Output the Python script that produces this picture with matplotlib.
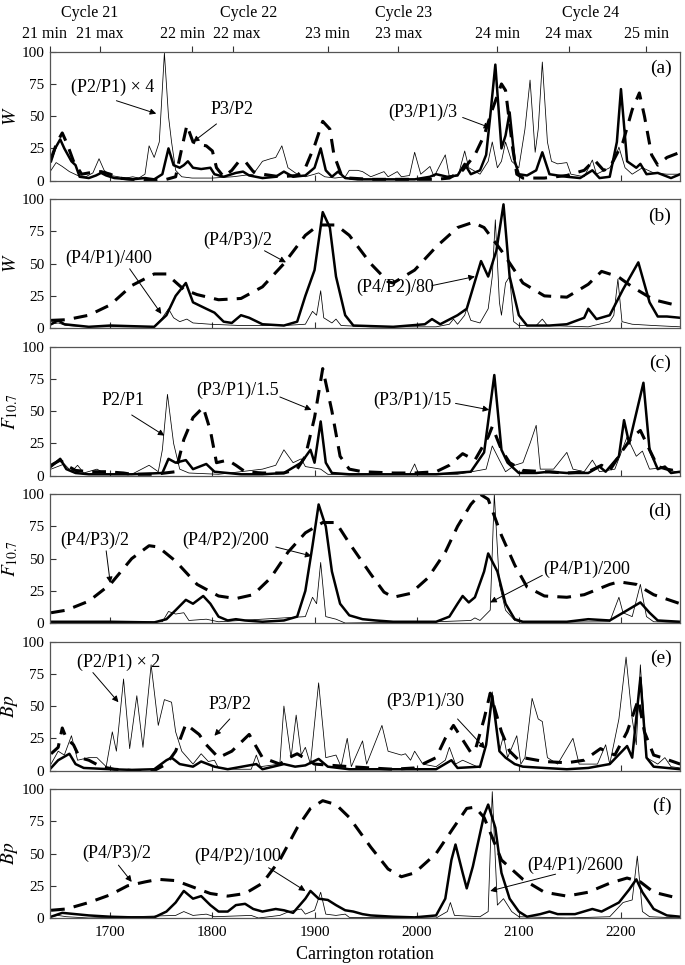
import matplotlib
matplotlib.use("Agg")
import matplotlib.pyplot as plt
import matplotlib.transforms as mtransforms

plt.rcParams['font.family'] = ['Liberation Serif', 'DejaVu Serif']
plt.rcParams['mathtext.fontset'] = 'stix'

# solar cycle markers on the top axis
cycle_ticks = [1641, 1690, 1780, 1820, 1913, 1982, 2079, 2149, 2225]
cycle_tick_labels = ['21 min', '21 max', '22 min', '22 max', '23 min',
                     '23 max', '24 min', '24 max', '25 min']
cycle_names = ['Cycle 21', 'Cycle 22', 'Cycle 23', 'Cycle 24']
cycle_name_pos = [1680, 1835, 1987, 2170]

# ---- panel (a): W, short periods
a_thin_x = [1642, 1647, 1653, 1660, 1668, 1676, 1683, 1689, 1694, 1700, 1708, 1715, 1722, 1728, 1734, 1738, 1743, 1748,
            1753, 1757, 1760, 1764, 1770, 1780, 1800, 1820, 1840, 1849, 1853, 1857, 1862, 1868, 1874, 1883, 1891, 1900,
            1904, 1910, 1920, 1930, 1934, 1942, 1947, 1955, 1968, 1972, 1981, 1985, 1993, 1998, 2004, 2013, 2017, 2028,
            2032, 2041, 2047, 2051, 2062, 2070, 2074, 2079, 2083, 2087, 2093, 2100, 2106, 2111, 2116, 2119, 2123, 2128,
            2132, 2138, 2147, 2151, 2164, 2172, 2176, 2189, 2193, 2198, 2204, 2211, 2221, 2232, 2245, 2258]
a_thin_y = [8, 14, 11, 7, 4, 3, 6, 17, 8, 4, 3, 2, 3, 2, 5, 27, 18, 30,
            99, 50, 30, 8, 3, 2, 2, 3, 5, 15, 16, 17, 18, 27, 10, 5, 3, 5,
            6, 3, 2, 3, 8, 8, 7, 3, 7, 3, 7, 3, 4, 22, 5, 11, 3, 20,
            3, 5, 23, 10, 5, 15, 30, 10, 15, 30, 15, 10, 40, 78, 22, 40, 92, 30,
            15, 13, 14, 5, 3, 16, 5, 10, 15, 26, 10, 5, 10, 6, 5, 5]
a_thick_x = [1642, 1646, 1651, 1655, 1662, 1666, 1670, 1679, 1686, 1691, 1696, 1704, 1721, 1734, 1743, 1751, 1757, 1762,
             1768, 1772, 1776, 1781, 1789, 1798, 1802, 1811, 1823, 1830, 1836, 1849, 1862, 1870, 1879, 1891, 1900, 1906,
             1911, 1917, 1923, 1930, 1942, 1977, 1998, 2013, 2019, 2030, 2040, 2047, 2053, 2062, 2068, 2072, 2077, 2083,
             2087, 2091, 2096, 2100, 2108, 2117, 2123, 2130, 2138, 2147, 2160, 2172, 2179, 2189, 2196, 2200, 2206, 2215,
             2219, 2225, 2236, 2249, 2258]
a_thick_y = [15, 25, 32, 25, 15, 12, 3, 2, 4, 6, 4, 2, 1, 2, 1, 5, 25, 12,
             10, 12, 15, 10, 9, 10, 5, 3, 6, 7, 4, 2, 3, 7, 3, 4, 10, 25,
             8, 3, 7, 2, 1, 1, 1, 3, 5, 3, 4, 13, 5, 8, 20, 50, 90, 25,
             35, 53, 15, 5, 4, 8, 22, 5, 4, 3, 2, 8, 2, 3, 30, 71, 15, 10,
             13, 5, 6, 2, 5]
a_dash_x = [1642, 1648, 1653, 1658, 1664, 1668, 1672, 1679, 1691, 1700, 1708, 1721, 1734, 1747, 1755, 1764, 1770, 1775,
            1781, 1787, 1794, 1800, 1804, 1811, 1819, 1826, 1832, 1840, 1849, 1866, 1883, 1891, 1900, 1908, 1915, 1919,
            1926, 1934, 1955, 1998, 2019, 2032, 2045, 2057, 2066, 2074, 2083, 2087, 2094, 2098, 2104, 2125, 2147, 2164,
            2174, 2183, 2189, 2202, 2211, 2218, 2223, 2230, 2236, 2245, 2258]
a_dash_y = [17, 30, 37, 28, 15, 10, 5, 6, 7, 5, 2, 1, 0, 1, 1, 3, 25, 43,
            30, 28, 27, 23, 10, 3, 8, 15, 15, 7, 5, 3, 4, 10, 27, 46, 40, 20,
            5, 2, 1, 1, 1, 2, 8, 20, 35, 55, 75, 70, 25, 5, 2, 2, 4, 8,
            16, 8, 10, 30, 55, 68, 50, 20, 12, 18, 22]

# ---- panel (b): W, long periods
b_thin_x = [1642, 1649, 1657, 1679, 1721, 1743, 1751, 1757, 1762, 1768, 1775, 1781, 1798, 1828, 1870, 1891, 1898, 1902,
            1906, 1909, 1917, 1921, 1926, 1955, 2019, 2032, 2036, 2040, 2047, 2049, 2053, 2062, 2070, 2074, 2077, 2081,
            2083, 2087, 2091, 2095, 2100, 2117, 2123, 2128, 2168, 2189, 2193, 2197, 2201, 2211, 2232, 2258]
b_thin_y = [3, 4, 2, 1, 1, 1, 8, 15, 8, 5, 7, 4, 3, 2, 2, 3, 13, 10,
            29, 8, 4, 7, 2, 1, 1, 3, 7, 3, 10, 15, 6, 4, 15, 40, 84, 20,
            10, 35, 40, 5, 2, 2, 7, 2, 1, 5, 10, 38, 5, 3, 2, 1]
b_thick_x = [1642, 1649, 1655, 1679, 1700, 1721, 1743, 1755, 1764, 1774, 1781, 1794, 1802, 1811, 1819, 1828, 1836, 1849,
             1870, 1883, 1891, 1900, 1908, 1915, 1921, 1930, 1938, 1977, 2008, 2015, 2023, 2040, 2049, 2063, 2070, 2078,
             2085, 2091, 2100, 2108, 2130, 2147, 2164, 2168, 2176, 2189, 2202, 2217, 2228, 2236, 2245, 2258]
b_thick_y = [3, 6, 3, 1, 2, 1.5, 1, 10, 25, 35, 20, 15, 12, 5, 4, 10, 8, 3,
             2, 5, 25, 45, 90, 78, 40, 10, 2, 1, 3, 7, 3, 10, 15, 52, 40, 60,
             96, 40, 10, 2, 2, 3, 8, 15, 7, 10, 30, 51, 20, 9, 9, 8]
b_dash_x = [1642, 1657, 1679, 1700, 1721, 1743, 1755, 1772, 1785, 1806, 1828, 1849, 1870, 1891, 1904, 1921, 1934, 1955,
            1972, 1977, 1998, 2019, 2040, 2055, 2066, 2083, 2104, 2125, 2147, 2168, 2181, 2197, 2211, 2232, 2258]
b_dash_y = [6, 6.5, 10, 18, 33, 42, 42, 30, 26, 22, 23, 32, 50, 72, 80, 80, 72, 50,
            36, 35, 45, 63, 78, 82, 78, 60, 35, 25, 24, 34, 44, 40, 32, 22, 17]

# ---- panel (c): F10.7, short periods
c_thin_x = [1642, 1655, 1662, 1668, 1674, 1687, 1696, 1721, 1738, 1747, 1751, 1756, 1762, 1768, 1777, 1806, 1849, 1862,
            1870, 1879, 1887, 1891, 1906, 1913, 1934, 1993, 1998, 2002, 2040, 2068, 2074, 2081, 2087, 2096, 2104, 2111,
            2117, 2121, 2134, 2147, 2153, 2164, 2172, 2179, 2194, 2206, 2215, 2221, 2228, 2240, 2258]
c_thin_y = [5, 9, 3, 8, 2, 5, 1, 1, 8, 3, 20, 63, 25, 5, 2, 1, 5, 8,
            20, 10, 13, 7, 5, 1, 0.5, 1, 9, 1, 1, 5, 23, 12, 3, 8, 10, 25,
            39, 5, 5, 18, 5, 3, 12, 3, 5, 30, 15, 19, 5, 6, 2]
c_thick_x = [1642, 1651, 1657, 1666, 1679, 1721, 1751, 1757, 1764, 1774, 1781, 1794, 1802, 1828, 1849, 1870, 1887, 1896,
             1900, 1906, 1911, 1917, 1934, 2019, 2053, 2066, 2076, 2083, 2089, 2100, 2117, 2130, 2147, 2168, 2179, 2185,
             2198, 2203, 2208, 2222, 2228, 2236, 2243, 2249, 2258]
c_thick_y = [7, 13, 5, 2, 1, 1, 2, 13, 10, 12, 5, 9, 3, 1, 1, 2, 10, 20,
             10, 42, 10, 2, 1, 1, 3, 18, 78, 20, 10, 2, 2, 3, 2, 2, 7, 3,
             15, 43, 25, 72, 20, 5, 7, 2, 3]
c_dash_x = [1642, 1651, 1657, 1666, 1679, 1696, 1713, 1721, 1743, 1764, 1772, 1781, 1791, 1798, 1804, 1815, 1823, 1832,
            1849, 1870, 1883, 1891, 1900, 1908, 1917, 1925, 1934, 1947, 1977, 1998, 2019, 2032, 2045, 2057, 2070, 2074,
            2083, 2091, 2104, 2125, 2147, 2168, 2181, 2189, 2202, 2211, 2219, 2228, 2236, 2245, 2258]
c_dash_y = [8, 12, 8, 4, 3, 3, 2, 1, 1, 3, 28, 45, 53, 35, 10, 12, 8, 3,
            2, 2, 5, 15, 45, 83, 50, 15, 5, 3, 2, 2, 3, 8, 17, 12, 30, 38,
            20, 10, 4, 3, 2, 3, 8, 4, 20, 30, 35, 20, 7, 5, 3]

# ---- panel (d): F10.7, long periods
d_thin_x = [1642, 1751, 1757, 1764, 1772, 1777, 1794, 1806, 1891, 1898, 1902, 1906, 1911, 1921, 1930, 2019, 2053, 2057,
            2062, 2072, 2076, 2081, 2087, 2096, 2104, 2189, 2198, 2202, 2211, 2219, 2225, 2232, 2258]
d_thin_y = [0.5, 1, 9, 7, 8, 2, 3, 1, 5, 20, 15, 47, 5, 3, 0, 1, 2, 4,
            2, 10, 100, 30, 10, 2, 0.5, 1, 20, 8, 5, 30, 5, 1, 0.5]
d_thick_x = [1642, 1700, 1743, 1755, 1764, 1774, 1781, 1791, 1798, 1806, 1815, 1823, 1832, 1849, 1870, 1883, 1891, 1898,
             1904, 1911, 1917, 1925, 1934, 1947, 1960, 1977, 2019, 2032, 2040, 2045, 2051, 2057, 2066, 2070, 2079, 2087,
             2096, 2104, 2147, 2168, 2189, 2202, 2219, 2228, 2236, 2258]
d_thick_y = [1, 1, 0.5, 3, 10, 18, 15, 21, 15, 5, 2, 3, 2, 1, 2, 5, 25, 60,
             92, 75, 40, 15, 6, 3, 2, 1, 1, 5, 15, 21, 16, 20, 40, 54, 40, 15,
             3, 1, 1, 3, 2, 8, 16, 8, 2, 1]
d_dash_x = [1642, 1657, 1679, 1700, 1721, 1738, 1747, 1764, 1785, 1806, 1823, 1840, 1857, 1874, 1891, 1908, 1921, 1934,
            1955, 1968, 1977, 1994, 2011, 2028, 2040, 2053, 2062, 2070, 2083, 2096, 2108, 2125, 2147, 2164, 2189, 2198,
            2215, 2232, 2258]
d_dash_y = [8, 10, 17, 30, 50, 60, 59, 48, 30, 21, 19, 22, 35, 55, 70, 78, 78, 62,
            38, 24, 20, 23, 35, 55, 75, 92, 100, 96, 68, 45, 28, 21, 20, 22, 30, 32,
            30, 22, 15]

# ---- panel (e): Bp, short periods
e_thin_x = [1642, 1649, 1655, 1662, 1668, 1679, 1687, 1696, 1702, 1706, 1713, 1719, 1726, 1732, 1740, 1747, 1753, 1760,
            1764, 1770, 1781, 1789, 1796, 1802, 1806, 1823, 1838, 1843, 1847, 1866, 1870, 1877, 1882, 1887, 1891, 1896,
            1904, 1911, 1921, 1926, 1932, 1936, 1947, 1951, 1966, 1972, 1985, 1989, 1994, 1998, 2006, 2019, 2028, 2032,
            2038, 2045, 2062, 2068, 2074, 2081, 2085, 2089, 2098, 2102, 2106, 2113, 2119, 2123, 2128, 2138, 2153, 2159,
            2177, 2185, 2189, 2198, 2205, 2211, 2215, 2219, 2225, 2236, 2243, 2249, 2258]
e_thin_y = [5, 15, 12, 27, 8, 10, 10, 3, 30, 15, 71, 17, 58, 18, 82, 35, 55, 53,
            30, 15, 5, 13, 7, 8, 2, 1, 1, 12, 3, 5, 50, 10, 43, 12, 18, 5,
            68, 10, 12, 3, 25, 3, 23, 5, 35, 15, 12, 13, 8, 15, 5, 3, 8, 18,
            5, 8, 2, 20, 61, 15, 27, 10, 27, 5, 10, 56, 40, 38, 10, 5, 25, 5,
            5, 20, 5, 40, 88, 40, 20, 82, 10, 5, 10, 3, 2]
e_thick_x = [1642, 1649, 1660, 1666, 1674, 1700, 1721, 1743, 1755, 1760, 1768, 1781, 1789, 1802, 1815, 1843, 1849, 1870,
             1881, 1891, 1904, 1913, 1934, 2019, 2034, 2040, 2062, 2068, 2074, 2081, 2087, 2096, 2104, 2125, 2147, 2168,
             2189, 2206, 2211, 2219, 2225, 2232, 2258]
e_thick_y = [2, 8, 13, 5, 2, 1, 0.5, 1, 8, 10, 5, 3, 7, 3, 1, 5, 1, 5,
             3, 4, 9, 3, 1, 1, 8, 2, 3, 20, 58, 15, 10, 5, 3, 2, 1, 2,
             5, 19, 10, 72, 10, 3, 1]
e_dash_x = [1642, 1649, 1653, 1657, 1664, 1670, 1679, 1691, 1704, 1721, 1743, 1755, 1764, 1774, 1787, 1794, 1806, 1819,
            1836, 1849, 1866, 1875, 1883, 1900, 1934, 1955, 1977, 1998, 2019, 2028, 2036, 2053, 2057, 2066, 2072, 2083,
            2091, 2100, 2104, 2125, 2147, 2164, 2180, 2185, 2194, 2206, 2217, 2223, 2232, 2240, 2258]
e_dash_y = [13, 18, 33, 25, 20, 10, 8, 3, 1, 0, 0, 5, 15, 36, 28, 20, 10, 15,
            28, 10, 5, 10, 13, 5, 3, 2, 1, 2, 10, 25, 35, 14, 15, 40, 60, 30,
            15, 8, 10, 7, 6, 8, 17, 15, 12, 30, 55, 30, 12, 10, 5]

# ---- panel (f): Bp, long periods
f_thin_x = [1642, 1649, 1657, 1679, 1764, 1772, 1781, 1794, 1802, 1838, 1845, 1866, 1875, 1887, 1891, 1900, 1906, 1911,
            1921, 1930, 1934, 2019, 2030, 2033, 2037, 2062, 2070, 2074, 2079, 2085, 2093, 2100, 2147, 2189, 2202, 2211,
            2216, 2221, 2228, 2258]
f_thin_y = [1, 2, 1, 0, 2, 5, 2, 3, 1, 2, 0, 2, 5, 7, 3, 6, 20, 3,
            2, 3, 0.5, 0, 5, 12, 2, 1, 5, 98, 10, 15, 5, 1, 0, 1, 12, 14,
            48, 5, 1, 0]
f_thick_x = [1642, 1653, 1666, 1679, 1700, 1721, 1743, 1755, 1764, 1772, 1781, 1789, 1798, 1806, 1815, 1823, 1832, 1840,
             1849, 1862, 1870, 1879, 1891, 1896, 1904, 1913, 1921, 1930, 1938, 1947, 1955, 1977, 1998, 2019, 2028, 2034,
             2038, 2045, 2049, 2055, 2066, 2070, 2077, 2083, 2091, 2100, 2108, 2121, 2130, 2138, 2155, 2172, 2181, 2198,
             2208, 2215, 2221, 2232, 2245, 2258]
f_thick_y = [1, 4, 3, 2, 1, 0.5, 0.5, 5, 12, 21, 15, 17, 10, 5, 5, 10, 11, 7,
             5, 7, 6, 4, 15, 21, 15, 14, 10, 6, 5, 3, 2, 1, 0.5, 2, 15, 45,
             57, 35, 23, 40, 80, 88, 70, 35, 15, 5, 1, 3, 5, 3, 3, 7, 5, 12,
             22, 30, 20, 7, 2, 1]
f_dash_x = [1642, 1657, 1679, 1700, 1717, 1734, 1747, 1764, 1781, 1798, 1815, 1832, 1849, 1866, 1883, 1896, 1908, 1921,
            1934, 1955, 1972, 1985, 1998, 2019, 2036, 2049, 2057, 2066, 2083, 2104, 2125, 2147, 2168, 2189, 2206, 2219,
            2232, 2258]
f_dash_y = [6, 7, 12, 18, 25, 28, 30, 29, 24, 19, 17, 19, 27, 45, 70, 85, 91, 88,
            78, 55, 38, 32, 35, 50, 70, 85, 86, 78, 45, 30, 20, 17, 20, 27, 31, 28,
            20, 15]

panels = [
    ('(a)', '$W$', (a_thin_x, a_thin_y), (a_thick_x, a_thick_y), (a_dash_x, a_dash_y)),
    ('(b)', '$W$', (b_thin_x, b_thin_y), (b_thick_x, b_thick_y), (b_dash_x, b_dash_y)),
    ('(c)', '$F_{10.7}$', (c_thin_x, c_thin_y), (c_thick_x, c_thick_y), (c_dash_x, c_dash_y)),
    ('(d)', '$F_{10.7}$', (d_thin_x, d_thin_y), (d_thick_x, d_thick_y), (d_dash_x, d_dash_y)),
    ('(e)', '$Bp$', (e_thin_x, e_thin_y), (e_thick_x, e_thick_y), (e_dash_x, e_dash_y)),
    ('(f)', '$Bp$', (f_thin_x, f_thin_y), (f_thick_x, f_thick_y), (f_dash_x, f_dash_y)),
]

# label text, text position, arrow tail, arrow head (per panel)
notes = [
    [('(P2/P1) × 4', (1702, 72), (1706, 62), (1745, 52)),
     ('P3/P2', (1819, 55), (1804, 44), (1781, 30)),
     ('(P3/P1)/3', (2006, 53), (2045, 49), (2072, 41))],
    [('(P4/P1)/400', (1698, 54), (1719, 46), (1750, 11)),
     ('(P4/P3)/2', (1825, 68), (1851, 60), (1872, 51)),
     ('(P4/P2)/80', (1979, 32), (2015, 33), (2057, 40))],
    [('P2/P1', (1713, 58), (1721, 47), (1753, 31)),
     ('(P3/P1)/1.5', (1825, 66), (1866, 61), (1897, 51)),
     ('(P3/P1)/15', (1996, 58), (2038, 56), (2071, 51))],
    [('(P4/P3)/2', (1685, 64), (1696, 56), (1700, 31)),
     ('(P4/P2)/200', (1813, 64), (1862, 59), (1897, 52)),
     ('(P4/P1)/200', (2166, 42), (2123, 37), (2072, 16))],
    [('(P2/P1) × 2', (1708, 84), (1683, 76), (1708, 53)),
     ('P3/P2', (1817, 51), (1817, 40), (1802, 27)),
     ('(P3/P1)/30', (2008, 54), (2040, 40), (2067, 17))],
    [('(P4/P3)/2', (1706, 50), (1708, 41), (1721, 28)),
     ('(P4/P2)/100', (1825, 48), (1855, 39), (1891, 21)),
     ('(P4/P1)/2600', (2155, 41), (2136, 34), (2072, 21))],
]

fig, axes = plt.subplots(6, 1, figsize=(6.85, 9.65), dpi=100, sharex=True)
fig.subplots_adjust(left=0.073, right=0.993, top=0.9464, bottom=0.0487, hspace=0.144)

for ax, (tag, ylab, thin, thick, dash), pnotes in zip(axes, panels, notes):
    ax.plot(dash[0], dash[1], color='black', lw=2.2, ls=(0, (4.5, 3)))
    ax.plot(thick[0], thick[1], color='black', lw=1.8)
    ax.plot(thin[0], thin[1], color='black', lw=0.55)
    ax.set_xlim(1641, 2258)
    ax.set_ylim(0, 100)
    ax.set_yticks([0, 25, 50, 75, 100])
    ax.set_xticks([1700, 1800, 1900, 2000, 2100, 2200])
    ax.tick_params(direction='in', length=4, width=0.8, labelsize=11, pad=4, colors='#333')
    ax.tick_params(axis='y', labelcolor='black')
    ax.tick_params(axis='x', labelcolor='black', pad=6)
    for sp in ax.spines.values():
        sp.set_color('#555')
        sp.set_linewidth(0.9)
    ax.set_ylabel(ylab, fontsize=14)
    ax.yaxis.set_label_coords(-0.047, 0.5)
    ax.text(0.986, 0.87, tag, transform=ax.transAxes, ha='right', va='center', fontsize=14)
    for txt, tpos, tail, head in pnotes:
        ax.text(tpos[0], tpos[1], txt, ha='center', va='center', fontsize=13)
        ax.annotate('', xy=head, xytext=tail,
                    arrowprops=dict(arrowstyle='-|>', color='black', lw=0.7,
                                    shrinkA=0, shrinkB=0, mutation_scale=9))

axes[-1].set_xlabel('Carrington rotation', fontsize=13, labelpad=5)

# cycle markers above panel (a)
top = axes[0].secondary_xaxis('top')
top.set_xticks(cycle_ticks, labels=cycle_tick_labels)
top.tick_params(direction='out', length=4, width=0.8, labelsize=11.5, pad=3, colors='#333', labelcolor='black')
top.spines['top'].set_visible(False)
for lab, dx in zip(top.get_xticklabels(), [-6, 0, -9, 4, 0, 0, 0, 0, 0]):
    lab.set_transform(lab.get_transform() + mtransforms.ScaledTranslation(dx / 100, 0, fig.dpi_scale_trans))
for name, pos in zip(cycle_names, cycle_name_pos):
    axes[0].text(pos, 1.30, name, transform=axes[0].get_xaxis_transform(),
                 ha='center', va='center', fontsize=11.5)

fig.savefig('out.png', dpi=100)
